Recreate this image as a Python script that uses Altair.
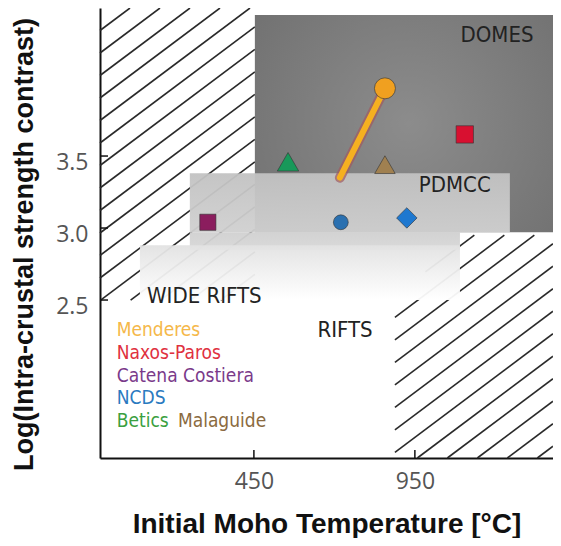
import altair as alt
import pandas as pd

# ---------------- axes ----------------
X_DOMAIN = [-28, 1379]
Y_DOMAIN = [1.403, 4.528]
X_TICKS = [450, 950]
Y_TICKS = [2.5, 3.0, 3.5]
X_TITLE = "Initial Moho Temperature [°C]"
Y_TITLE = "Log(Intra-crustal strength contrast)"

# ---------------- markers ----------------
site = ["Catena Costiera", "NCDS", "NCDS", "Betics", "Betics Malaguide", "Naxos-Paros", "Menderes"]
temp = [307, 720, 925, 556, 857, 1105, 857]
logc = [3.04, 3.04, 3.07, 3.46, 3.44, 3.65, 3.97]
shape = ["square", "circle", "diamond", "triangle-up", "triangle-up", "square", "circle"]
color = ["#8b1d5e", "#2a70b0", "#1e78d0", "#18995a", "#a08050", "#d81030", "#f0a020"]
msize = [260, 220, 420, 460, 420, 300, 440]

# arrow (Menderes)
arrow_x = [717, 857]
arrow_y = [3.35, 3.97]

# ---------------- regions ----------------
dark_box = [453, 1410, 2.97, 4.48]       # x, x2, y, y2
light_box = [251, 1245, 2.97, 3.38]
light_box_low = [251, 1090, 2.85, 2.97]
fade_box = [96, 1090, 2.50, 2.88]
left_hatch = [(-28, 4.528), (453, 4.528), (453, 2.50), (-28, 2.50)]
right_hatch = [(888, 2.47), (1090, 2.95), (1379, 2.95), (1379, 1.403), (888, 1.403)]

# ---------------- labels ----------------
region_text = ["PDMCC", "WIDE RIFTS", "RIFTS", "DOMES"]
region_x = [1074, 118, 733, 1205]
region_y = [3.30, 2.53, 2.29, 4.34]
region_align = ["center", "left", "center", "center"]

legend_text = ["Menderes", "Naxos-Paros", "Catena Costiera", "NCDS", "Betics"]
legend_color = ["#f5b84a", "#e03040", "#7a3a8a", "#2a7ac0", "#3aa040"]
legend_x = [24, 24, 24, 24, 24]
legend_y = [2.29, 2.13, 1.97, 1.82, 1.66]
legend_extra = "Malaguide"
legend_extra_x = 214
legend_extra_color = "#8a6a40"

W, H = 453, 450
X0, X1 = X_DOMAIN
Y0, Y1 = Y_DOMAIN
NARROW = "Liberation Sans Narrow, DejaVu Sans Condensed, sans-serif"


def to_px(x):
    return (x - X0) / (X1 - X0) * W


def to_py(y):
    return (Y1 - y) / (Y1 - Y0) * H


def from_px(p):
    return X0 + p / W * (X1 - X0)


def from_py(q):
    return Y1 - q / H * (Y1 - Y0)


SLOPE = 0.75
STEP = 30


def hatch(poly, k0):
    pts = [(to_px(x), to_py(y)) for x, y in poly]
    cx = sum(p[0] for p in pts) / len(pts)
    cy = sum(p[1] for p in pts) / len(pts)
    ks = [p[1] + SLOPE * p[0] for p in pts]
    segs = []
    n0 = int((min(ks) - k0) // (SLOPE * STEP)) - 1
    n1 = int((max(ks) - k0) // (SLOPE * STEP)) + 2
    for n in range(n0, n1):
        k = k0 + n * SLOPE * STEP
        tmin, tmax = -1e9, 1e9
        ok = True
        for i in range(len(pts)):
            a = pts[i]
            b = pts[(i + 1) % len(pts)]
            nx, ny = -(b[1] - a[1]), b[0] - a[0]
            if nx * (cx - a[0]) + ny * (cy - a[1]) < 0:
                nx, ny = -nx, -ny
            coef = nx - SLOPE * ny
            const = -nx * a[0] + ny * (k - a[1])
            if abs(coef) < 1e-9:
                if const < 0:
                    ok = False
                continue
            t0 = -const / coef
            if coef > 0:
                tmin = max(tmin, t0)
            else:
                tmax = min(tmax, t0)
        if ok and tmax - tmin > 1:
            segs.append({
                "x": from_px(tmin), "y": from_py(k - SLOPE * tmin),
                "x2": from_px(tmax), "y2": from_py(k - SLOPE * tmax),
            })
    return segs


hatch_df = pd.DataFrame(hatch(left_hatch, 0.0) + hatch(right_hatch, 13.0))

xs = alt.Scale(domain=X_DOMAIN, nice=False, zero=False)
ys = alt.Scale(domain=Y_DOMAIN, nice=False, zero=False)

x_axis = alt.Axis(values=X_TICKS, ticks=False, tickSize=0, grid=False, labelPadding=12,
                  labelFontSize=23, labelColor="#555", labelFont="Open Sans",
                  domainColor="#111", domainWidth=2, title=X_TITLE, titleFontSize=28,
                  titleFont="Liberation Sans", titleFontWeight="bold", titleColor="#111",
                  titleBaseline="alphabetic", titleY=74)
y_axis = alt.Axis(values=Y_TICKS, ticks=False, tickSize=0, grid=False, labelPadding=12,
                  labelFontSize=23, labelColor="#555", labelFont="Open Sans", labelOffset=6,
                  format=".1f", domainColor="#111", domainWidth=2, title=Y_TITLE,
                  titleFontSize=27, titleFont="Liberation Sans", titleFontWeight="bold",
                  titleColor="#111", titleX=-62, titleY=236)

hatch_layer = alt.Chart(hatch_df).mark_rule(color="#2a2a2a", strokeWidth=1.6).encode(
    x=alt.X("x:Q", scale=xs, axis=x_axis), y=alt.Y("y:Q", scale=ys, axis=y_axis),
    x2="x2:Q", y2="y2:Q")


def box(vals, **kw):
    df = pd.DataFrame([{"x": vals[0], "x2": vals[1], "y": vals[2], "y2": vals[3]}])
    return alt.Chart(df).mark_rect(**kw).encode(
        x=alt.X("x:Q", scale=xs), x2="x2:Q", y=alt.Y("y:Q", scale=ys), y2="y2:Q")


def vgrad(c_top, c_bottom):
    return alt.LinearGradient(gradient="linear", x1=0, x2=0, y1=0, y2=1,
                              stops=[alt.GradientStop(color=c_top, offset=0),
                                     alt.GradientStop(color=c_bottom, offset=1)])


dark = box(dark_box, color=alt.RadialGradient(
    gradient="radial", x1=0.5, y1=0.5, x2=0.5, y2=0.5, r1=0, r2=0.75,
    stops=[alt.GradientStop(color="#8c8c8c", offset=0),
           alt.GradientStop(color="#6c6c6c", offset=1)]))
light = box(light_box, color=vgrad("#c2c2c2", "#d0d0d0"), opacity=0.95)
light_low = box(light_box_low, color=vgrad("#d0d0d0", "#d8d8d8"), opacity=0.95)
fade = box(fade_box, color=vgrad("#e2e2e2", "#ffffff"), opacity=0.95)

arrow_df = pd.DataFrame({"x": arrow_x, "y": arrow_y})
arrow_under = alt.Chart(arrow_df).mark_line(color="#a05a60", strokeWidth=10, opacity=0.7,
                                            strokeCap="round").encode(
    x=alt.X("x:Q", scale=xs), y=alt.Y("y:Q", scale=ys))
arrow_top = alt.Chart(arrow_df).mark_line(color="#f5b020", strokeWidth=6,
                                          strokeCap="round").encode(
    x=alt.X("x:Q", scale=xs), y=alt.Y("y:Q", scale=ys))

pts_df = pd.DataFrame({"site": site, "x": temp, "y": logc, "shape": shape,
                       "color": color, "size": msize})
points = alt.Chart(pts_df).mark_point(filled=True, opacity=1, stroke="#333",
                                      strokeWidth=0.6).encode(
    x=alt.X("x:Q", scale=xs), y=alt.Y("y:Q", scale=ys),
    shape=alt.Shape("shape:N", scale=None), color=alt.Color("color:N", scale=None),
    size=alt.Size("size:Q", scale=None))

reg_df = pd.DataFrame({"t": region_text, "x": region_x, "y": region_y, "a": region_align})
reg_left = alt.Chart(reg_df[reg_df.a == "left"]).mark_text(
    align="left", baseline="middle", fontSize=22, color="#222", font=NARROW).encode(
    x=alt.X("x:Q", scale=xs), y=alt.Y("y:Q", scale=ys), text="t:N")
reg_center = alt.Chart(reg_df[reg_df.a == "center"]).mark_text(
    align="center", baseline="middle", fontSize=22, color="#222", font=NARROW).encode(
    x=alt.X("x:Q", scale=xs), y=alt.Y("y:Q", scale=ys), text="t:N")

leg_df = pd.DataFrame({"t": legend_text, "x": legend_x, "y": legend_y, "c": legend_color})
legend = alt.Chart(leg_df).mark_text(align="left", baseline="middle", fontSize=19,
                                     font=NARROW).encode(
    x=alt.X("x:Q", scale=xs), y=alt.Y("y:Q", scale=ys), text="t:N",
    color=alt.Color("c:N", scale=None))
leg2_df = pd.DataFrame({"t": [legend_extra], "x": [legend_extra_x], "y": [legend_y[-1]]})
legend2 = alt.Chart(leg2_df).mark_text(align="left", baseline="middle", fontSize=19,
                                       color=legend_extra_color, font=NARROW).encode(
    x=alt.X("x:Q", scale=xs), y=alt.Y("y:Q", scale=ys), text="t:N")

ytick_df = pd.DataFrame({"v": Y_TICKS})
yticks = alt.Chart(ytick_df).mark_rule(color="#111", strokeWidth=1.5).encode(
    y=alt.Y("v:Q", scale=ys), x=alt.value(0), x2=alt.value(8))
xtick_df = pd.DataFrame({"v": X_TICKS})
xticks = alt.Chart(xtick_df).mark_rule(color="#111", strokeWidth=1.5).encode(
    x=alt.X("v:Q", scale=xs), y=alt.value(H), y2=alt.value(H - 8))

chart = alt.layer(
    hatch_layer, dark, light, light_low, fade, arrow_under, arrow_top, points,
    reg_left, reg_center, legend, legend2, yticks, xticks
).properties(
    width=W, height=H, autosize="none",
    padding={"left": 92, "top": 0, "right": 0, "bottom": 80},
    background="white"
).configure_view(stroke=None)

chart.save("out.html", embed_options={"renderer": "svg", "actions": False})
